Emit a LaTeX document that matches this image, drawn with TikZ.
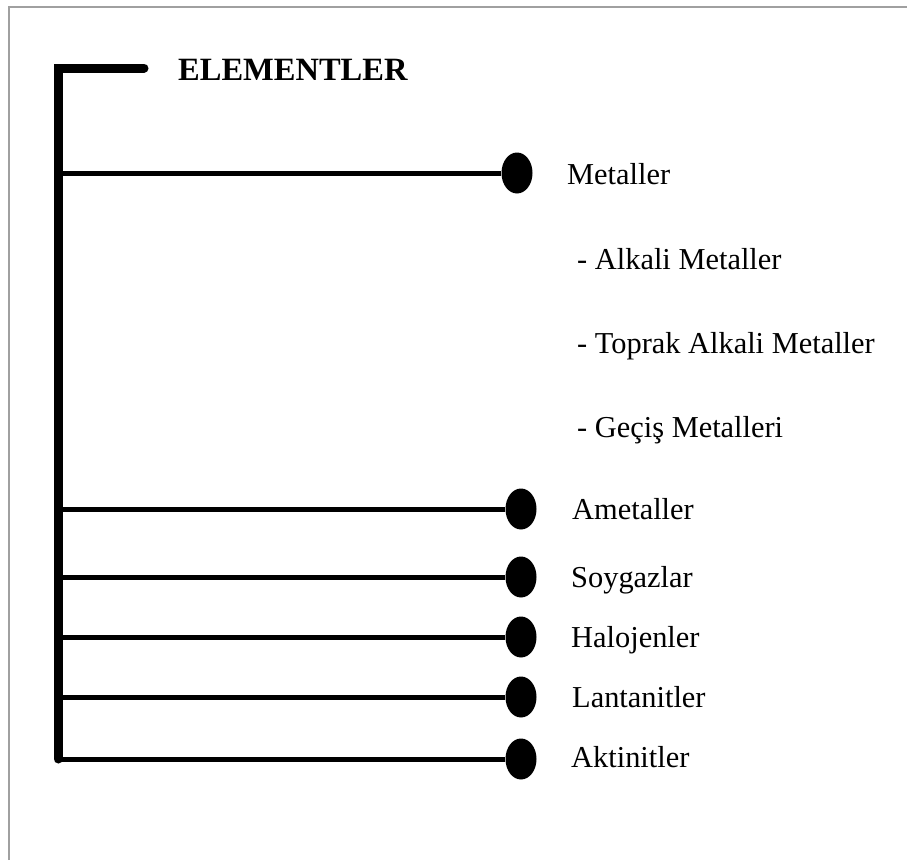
\documentclass[tikz,border=0pt]{standalone}
\usepackage{fontspec}
\setmainfont{Liberation Serif}
\usepackage{tikz}
\usetikzlibrary{shapes.geometric}
\definecolor{framegray}{RGB}{160,160,160}

\begin{document}
\begin{tikzpicture}[
  x=1pt,y=-1pt,
  font=\fontsize{30.4}{36}\selectfont,
  trunk/.style={line width=9pt,line cap=round},
  branch/.style={line width=5pt},
  dot/.style={ellipse,fill=black,minimum width=31pt,minimum height=41pt,inner sep=0pt},
  lbl/.style={anchor=base west,inner sep=0pt},
]
\useasboundingbox (0,0) rectangle (907,860);
\draw[framegray,line width=2.5pt] (9,860) -- (9,7) -- (907,7);

\coordinate (top) at (58,68);
\coordinate (stub) at (144,68);
\coordinate (bottom) at (58,759);

\node[lbl,font=\bfseries\fontsize{32.5}{36}\selectfont] (title) at (178,80) {ELEMENTLER};

\node[dot] (metal) at (517,173) {};
\node[dot] (ametal) at (521,509) {};
\node[dot] (soygaz) at (521,577) {};
\node[dot] (halojen) at (521,637) {};
\node[dot] (lantanit) at (521,697) {};
\node[dot] (aktinit) at (521,759) {};

\draw[trunk] (stub) -- (top) -- (bottom);
\draw[branch] (metal -| top) -- (metal.west);
\draw[branch] (ametal -| top) -- (ametal.west);
\draw[branch] (soygaz -| top) -- (soygaz.west);
\draw[branch] (halojen -| top) -- (halojen.west);
\draw[branch] (lantanit -| top) -- (lantanit.west);
\draw[branch] (aktinit -| top) -- (aktinit.west);

\node[lbl] (metalL) at (567,184) {Metaller};
\node[lbl] (alkali) at (577,269) {- Alkali Metaller};
\node[lbl] (toprak) at (577,353) {- Toprak Alkali Metaller};
\node[lbl] (gecis) at (577,437) {- Geçiş Metalleri};
\node[lbl] (ametalL) at (572,519) {Ametaller};
\node[lbl] (soygazL) at (571,587) {Soygazlar};
\node[lbl] (halojenL) at (571,647) {Halojenler};
\node[lbl] (lantanitL) at (572,707) {Lantanitler};
\node[lbl] (aktinitL) at (571,767) {Aktinitler};
\end{tikzpicture}
\end{document}
